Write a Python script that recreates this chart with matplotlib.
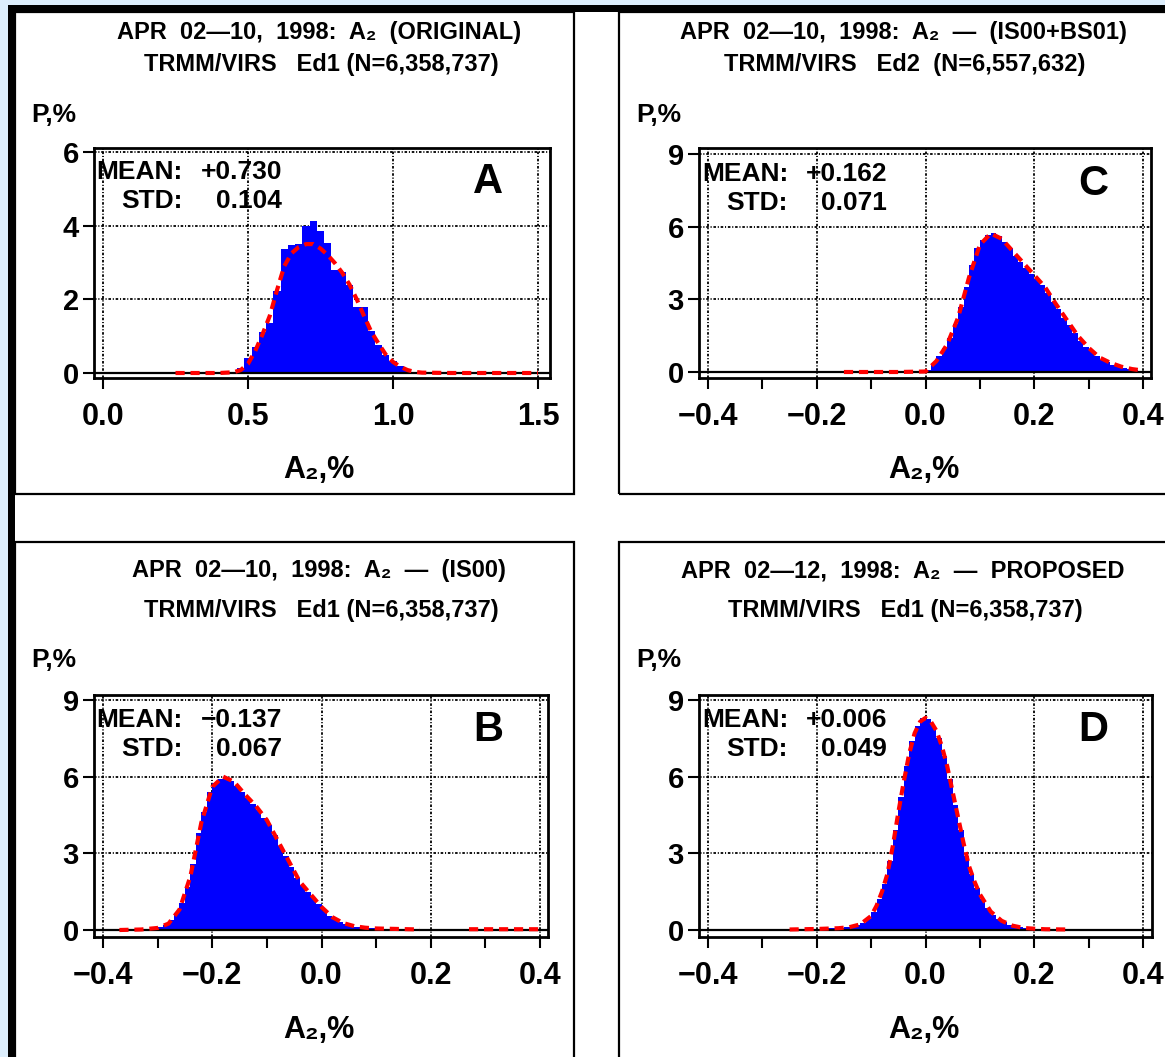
import matplotlib.pyplot as plt
from matplotlib.patches import Rectangle
import numpy as np

plt.rcParams['font.family'] = ['Liberation Sans', 'DejaVu Sans']
plt.rcParams['font.weight'] = 'bold'

# ---- panel A: original (bins of 0.025 starting at 0.4625) ----
a_start, a_width = 0.4625, 0.025
a_bars = [0.13, 0.4, 0.7, 1.1, 1.37, 2.22, 3.36, 3.47, 3.5, 4.0, 4.13, 3.85,
          3.52, 2.8, 2.75, 2.38, 1.8, 1.8, 1.14, 0.77, 0.5, 0.32, 0.18, 0.08]
a_fit_x = [0.25, 0.30, 0.35, 0.40, 0.45, 0.475, 0.50, 0.525, 0.55, 0.575, 0.60,
           0.625, 0.65, 0.675, 0.70, 0.725, 0.75, 0.775, 0.80, 0.825, 0.85, 0.875,
           0.90, 0.925, 0.95, 0.975, 1.00, 1.025, 1.05, 1.075, 1.10, 1.20, 1.30,
           1.40, 1.50]
a_fit_y = [0.0, 0.0, 0.0, 0.0, 0.02, 0.08, 0.25, 0.6, 1.05, 1.55, 2.25, 2.9, 3.25,
           3.42, 3.5, 3.5, 3.38, 3.2, 2.98, 2.72, 2.4, 2.0, 1.55, 1.12, 0.8, 0.5,
           0.3, 0.17, 0.08, 0.03, 0.01, 0.0, 0.0, 0.0, 0.0]

# ---- panel C: IS00+BS01 (bins of 0.01 starting at 0.0) ----
c_start, c_width = 0.0, 0.01
c_bars = [0.1, 0.35, 0.65, 1.0, 1.4, 2.0, 2.7, 3.5, 4.4, 5.1,
          5.45, 5.65, 5.75, 5.6, 5.35, 5.1, 4.8, 4.55, 4.3, 4.05,
          3.85, 3.6, 3.25, 2.9, 2.6, 2.25, 1.95, 1.6, 1.3, 1.05,
          0.85, 0.65, 0.5, 0.4, 0.3, 0.22, 0.17, 0.12, 0.09, 0.06]
c_fit_x = [-0.15, -0.10, -0.05, 0.0, 0.02, 0.04, 0.06, 0.08, 0.10, 0.12, 0.14,
           0.16, 0.18, 0.20, 0.22, 0.24, 0.26, 0.28, 0.30, 0.32, 0.34, 0.36,
           0.38, 0.40]
c_fit_y = [0.0, 0.0, 0.0, 0.02, 0.45, 1.15, 2.25, 3.9, 5.25, 5.72, 5.5, 5.0, 4.5,
           4.0, 3.5, 2.8, 2.15, 1.5, 1.0, 0.6, 0.38, 0.22, 0.12, 0.06]

# ---- panel B: IS00 (bins of 0.01 starting at -0.37) ----
b_start, b_width = -0.37, 0.01
b_bars = [0.02, 0.02, 0.03, 0.03, 0.04, 0.05, 0.07, 0.12, 0.2, 0.38,
          0.65, 1.05, 1.7, 2.6, 3.8, 4.6, 5.4, 5.75, 5.9, 6.0,
          5.85, 5.65, 5.4, 5.15, 4.95, 4.7, 4.4, 4.1, 3.7, 3.3,
          2.9, 2.45, 2.05, 1.75, 1.5, 1.25, 1.0, 0.75, 0.55, 0.42,
          0.3, 0.22, 0.17, 0.13, 0.1, 0.08, 0.07, 0.06, 0.05, 0.04,
          0.04, 0.03, 0.03, 0.03, 0.02]
b_fit_x = [-0.37, -0.33, -0.30, -0.28, -0.26, -0.24, -0.22, -0.20, -0.18, -0.16,
           -0.14, -0.12, -0.10, -0.08, -0.06, -0.04, -0.02, 0.0, 0.02, 0.04, 0.06,
           0.08, 0.10, 0.12, 0.14, 0.16, 0.18, 0.19, 0.27, 0.30, 0.35, 0.40]
b_fit_y = [0.0, 0.02, 0.08, 0.25, 0.8, 2.1, 4.2, 5.6, 6.0, 5.8, 5.3, 4.85, 4.3,
           3.5, 2.7, 1.9, 1.4, 0.9, 0.5, 0.27, 0.15, 0.09, 0.06, 0.05, 0.04, 0.03,
           0.02, np.nan, 0.03, 0.03, 0.03, 0.03]

# ---- panel D: proposed (bins of 0.01 starting at -0.25) ----
d_start, d_width = -0.25, 0.01
d_bars = [0.02, 0.02, 0.03, 0.03, 0.04, 0.05, 0.05, 0.06, 0.07, 0.08,
          0.1, 0.13, 0.18, 0.28, 0.45, 0.72, 1.2, 1.8, 2.7, 3.9,
          5.2, 6.4, 7.4, 8.0, 8.3, 8.25, 8.0, 7.5, 6.8, 5.9,
          4.9, 3.9, 2.9, 2.2, 1.65, 1.2, 0.85, 0.6, 0.42, 0.3,
          0.2, 0.14, 0.1, 0.07, 0.05, 0.04, 0.03, 0.03, 0.02, 0.02, 0.02]
d_fit_x = [-0.25, -0.20, -0.16, -0.14, -0.12, -0.10, -0.09, -0.08, -0.07, -0.06,
           -0.05, -0.04, -0.03, -0.02, -0.01, 0.0, 0.01, 0.02, 0.03, 0.04, 0.05,
           0.06, 0.07, 0.08, 0.09, 0.10, 0.12, 0.14, 0.16, 0.18, 0.20, 0.22, 0.26]
d_fit_y = [0.02, 0.04, 0.07, 0.11, 0.22, 0.55, 0.95, 1.5, 2.2, 3.3, 4.6, 5.8, 6.9,
           7.7, 8.15, 8.3, 8.15, 7.8, 7.2, 6.4, 5.4, 4.4, 3.4, 2.5, 1.9, 1.4, 0.72,
           0.36, 0.17, 0.08, 0.05, 0.03, 0.02]

titles = {
    'A': ("APR  02\u201410,  1998:  A\u2082  (ORIGINAL)", "TRMM/VIRS   Ed1 (N=6,358,737)"),
    'C': ("APR  02\u201410,  1998:  A\u2082  \u2014  (IS00+BS01)", "TRMM/VIRS   Ed2  (N=6,557,632)"),
    'B': ("APR  02\u201410,  1998:  A\u2082  \u2014  (IS00)", "TRMM/VIRS   Ed1 (N=6,358,737)"),
    'D': ("APR  02\u201412,  1998:  A\u2082  \u2014  PROPOSED", "TRMM/VIRS   Ed1 (N=6,358,737)"),
}
means = {'A': "+0.730", 'C': "+0.162", 'B': "\u22120.137", 'D': "+0.006"}
stds = {'A': "0.104", 'C': "0.071", 'B': "0.067", 'D': "0.049"}

W, H = 1165, 1057
fig = plt.figure(figsize=(W / 100, H / 100), dpi=100)
fig.patch.set_facecolor('white')


def rect(x0, y0, x1, y1, **kw):
    fig.add_artist(Rectangle((x0 / W, 1 - y1 / H), (x1 - x0) / W, (y1 - y0) / H,
                             transform=fig.transFigure, **kw))


def ftext(x, y, s, **kw):
    fig.text(x / W, 1 - y / H, s, **kw)


# outer frame
rect(0, 0, W, 5, color='#ddeefc', lw=0)
rect(0, 0, 8, H, color='#ddeefc', lw=0)
rect(8, 5, W, 12, color='black', lw=0)
rect(8, 5, 15, H, color='black', lw=0)

# panel boxes
for x0, y0, x1, y1 in [(15, 12, 574, 494), (619, 12, 1175, 494),
                       (15, 542, 574, 1065), (619, 542, 1175, 1065)]:
    rect(x0, y0, x1, y1, fill=False, ec='black', lw=1.6)


def make_axes(frame, xmap, ymap):
    l, t, r, b = frame
    ax = fig.add_axes([l / W, 1 - b / H, (r - l) / W, (b - t) / H])
    (x0, p0), (x1, p1) = xmap
    s = (x1 - x0) / (p1 - p0)
    ax.set_xlim(x0 - (p0 - l) * s, x1 + (r - p1) * s)
    (y0, q0), (y1, q1) = ymap
    sy = (y1 - y0) / (q0 - q1)
    ax.set_ylim(y0 - (b - q0) * sy, y1 + (q1 - t) * sy)
    for sp in ax.spines.values():
        sp.set_linewidth(2)
    ax.tick_params(axis='y', direction='out', length=8, width=1.5, labelsize=21, pad=3)
    ax.tick_params(axis='x', which='both', direction='out', length=8, width=1.5,
                   labelsize=22, pad=9)
    ax.grid(True, which='major', color='black', ls=(0, (1.4, 1.0, 0.6, 1.0)), lw=1.3)
    ax.set_axisbelow(True)
    return ax


panels = [
    ('A', (94, 148, 550, 378), ((0.0, 103), (1.5, 538)), ((0, 373), (6, 152)),
     a_start, a_width, a_bars, a_fit_x, a_fit_y, [0, 2, 4, 6],
     (15, 12)),
    ('C', (699, 148, 1151, 378), ((-0.4, 708), (0.4, 1143)), ((0, 372), (9, 154)),
     c_start, c_width, c_bars, c_fit_x, c_fit_y, [0, 3, 6, 9],
     (619, 12)),
    ('B', (94, 695, 548, 937), ((-0.4, 103), (0.4, 540)), ((0, 930), (9, 700)),
     b_start, b_width, b_bars, b_fit_x, b_fit_y, [0, 3, 6, 9],
     (15, 542)),
    ('D', (699, 695, 1152, 937), ((-0.4, 708), (0.4, 1143)), ((0, 930), (9, 700)),
     d_start, d_width, d_bars, d_fit_x, d_fit_y, [0, 3, 6, 9],
     (619, 542)),
]

for (key, frame, xmap, ymap, start, width, bars, fx_, fy_, yticks, origin) in panels:
    ax = make_axes(frame, xmap, ymap)
    centers = start + width * (np.arange(len(bars)) + 0.5)
    ax.bar(centers, bars, width=width, color='#0000ff', lw=0, zorder=2)
    ax.axhline(0, color='black', lw=1.6, zorder=3)
    ax.plot(fx_, fy_, color='#ff0000', ls=(0, (2.2, 1.4)), lw=3.0, zorder=4)
    ax.set_yticks(yticks)
    if key == 'A':
        ax.set_xticks([0.0, 0.5, 1.0, 1.5])
        ax.set_xticklabels(['0.0', '0.5', '1.0', '1.5'])
    else:
        ax.set_xticks([-0.4, -0.2, 0.0, 0.2, 0.4])
        ax.set_xticklabels(['\u22120.4', '\u22120.2', '0.0', '0.2', '0.4'])
        ax.set_xticks([-0.3, -0.1, 0.1, 0.3], minor=True)

    l, t, r, b = frame
    top_grid = ymap[1][1]
    ox, oy = origin
    t1, t2 = titles[key]
    if key in ('A', 'C'):
        ty1, ty2, py, xly = 32, 64, 115, 470
    else:
        ty1, ty2, py, xly = 571, 611, 660, 1030
    ftext(ox + 304 if key in ('A', 'B') else ox + 284, ty1, t1, fontsize=17,
          ha='center', va='center')
    ftext(ox + 306 if key in ('A', 'B') else ox + 286, ty2, t2, fontsize=17,
          ha='center', va='center')
    ftext(ox + 39 if key in ('A', 'B') else ox + 40, py, "P,%", fontsize=19,
          ha='center', va='center')
    ftext(l + 225, xly, "A\u2082,%", fontsize=22, ha='center', va='center')
    ftext(l + 89, top_grid + 20, "MEAN:", fontsize=19, ha='right', va='center')
    ftext(l + 188, top_grid + 20, means[key], fontsize=19, ha='right', va='center')
    ftext(l + 89, top_grid + 49, "STD:", fontsize=19, ha='right', va='center')
    ftext(l + 188, top_grid + 49, stds[key], fontsize=19, ha='right', va='center')
    ftext(l + 394, top_grid + 30, key, fontsize=30, ha='center', va='center')

fig.savefig('out.png', dpi=100)
